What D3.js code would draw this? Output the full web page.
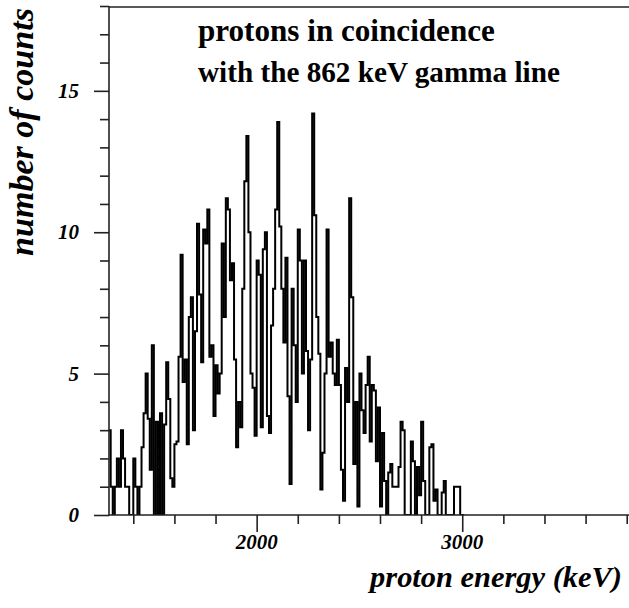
<!DOCTYPE html>
<html><head><meta charset="utf-8">
<script src="https://cdn.jsdelivr.net/npm/d3@7"></script>
<style>body{margin:0;background:#fff}svg{display:block}</style>
</head><body>
<svg id="c" width="629" height="608"></svg>
<script>
// ---- data ----
const binStart = 1280;   // keV, lower edge of first bin
const binWidth = 10;     // keV
const counts = [
 3,1,0,1,2,1,3,2,1,1, 0,0,2,1,0,1,2.4,3.6,5,3.4,
 1.6,6,0,3.3,0,3.6,0,3.2,5.4,4.1, 1.3,1,2.5,2.6,5.6,9.2,4.7,5.5,2.5,7,
 7.7,3,6.5,10.3,7.8,5.4,10.1,9.6,10.8,5.6, 6,3.5,5.3,4.3,5,9.6,7,11.2,10.8,8.3,
 8.9,5.5,2.4,4,3.1,8,11.8,13.4,10,5, 4.5,2.8,9,8.5,3.1,9.4,10,3.5,2.9,6.7,
 8,10.8,13.9,10.2,8,6.1,9.1,4.2,1.1,8, 6,4,10.1,9,5,9,5.8,3,5.5,14.2,
 10.6,7,5.7,0.9,2.2,5,10.1,5.6,6.1,5, 4.6,6.2,4.6,1.6,0.5,5.2,4,11.2,7.7,1.8,
 4,0.3,5,3.7,2.9,4.6,5.6,2.6,4.6,4.4, 1.9,3.8,0.3,2.9,1.2,0,1.5,1.8,1,1,
 1,1.7,3.3,3,0,0,0,2.6,1.9,0, 1.7,0.7,3.3,1.2,0,0,2.4,2.5,0.5,0.9,
 0,0,0.8,1.2,0,0,0,0,1,1, 1,0,0
];
const xTicks = [1400,1600,1800,2000,2200,2400,2600,2800,3000,3200,3400,3600,3800];
const xMajor = [2000,3000];
const yTicks = d3.range(0,19);
const yMajor = [0,5,10,15];
const titleLines = ["protons in coincidence","with the 862 keV gamma line"];
const xTitle = "proton energy (keV)";
const yTitle = "number of counts";

// ---- layout ----
const svg = d3.select("#c");
const pL = 109, pB = 515, pT = 6, pR = 629;
const x = d3.scaleLinear().domain([1400,3800]).range([133.3,626.7]);
const y = d3.scaleLinear().domain([0,18]).range([pB, pT]);
const serif = "'Liberation Serif','Times New Roman',serif";

svg.append("clipPath").attr("id","pc").append("rect")
  .attr("x",pL).attr("y",0).attr("width",pR-pL).attr("height",pB);

// histogram step line
const pts = counts.map((c,i)=>[binStart+i*binWidth, c]);
pts.push([binStart+counts.length*binWidth, counts[counts.length-1]]);
const line = d3.line().x(d=>x(d[0])).y(d=>y(d[1])).curve(d3.curveStepAfter);
svg.append("path").attr("clip-path","url(#pc)")
  .attr("d", line(pts)).attr("fill","none").attr("stroke","#000")
  .attr("stroke-width",2).attr("stroke-linejoin","miter");

// frame
const ax = "#222";
svg.append("line").attr("x1",pL).attr("x2",pR+2).attr("y1",pT+1).attr("y2",pT+1).attr("stroke",ax).attr("stroke-width",1.6);

// x axis
const gx = svg.append("g").attr("transform",`translate(0,${pB})`)
  .call(d3.axisBottom(x).tickValues(xTicks).tickSize(9).tickSizeOuter(0).tickFormat(()=>""));
gx.select(".domain").remove();
gx.selectAll(".tick line").attr("stroke",ax).attr("stroke-width",1.6)
  .attr("y2", d=> xMajor.includes(d)?17:9);
gx.selectAll(".tick text").remove();
svg.append("line").attr("x1",pL).attr("x2",pR+2).attr("y1",pB).attr("y2",pB).attr("stroke",ax).attr("stroke-width",1.6);
svg.selectAll(".xl").data(xMajor).enter().append("text")
  .attr("x",d=>x(d)).attr("y",549).attr("text-anchor","middle")
  .attr("font-family",serif).attr("font-weight","bold").attr("font-style","italic")
  .attr("font-size",21).text(d=>String(d));

// y axis
const gy = svg.append("g").attr("transform",`translate(${pL},0)`)
  .call(d3.axisLeft(y).tickValues(yTicks).tickSize(9).tickSizeOuter(0).tickFormat(()=>""));
gy.select(".domain").remove();
gy.selectAll(".tick line").attr("stroke",ax).attr("stroke-width",1.6)
  .attr("x2", d=> yMajor.includes(d)?-15:-9);
gy.selectAll(".tick text").remove();
svg.append("line").attr("x1",pL).attr("x2",pL).attr("y1",pT).attr("y2",pB+0.8).attr("stroke",ax).attr("stroke-width",1.6);
svg.selectAll(".yl").data(yMajor).enter().append("text")
  .attr("x",79).attr("y",d=>y(d)+7).attr("text-anchor","end")
  .attr("font-family",serif).attr("font-weight","bold").attr("font-style","italic")
  .attr("font-size",21).text(d=>String(d));

// helper: fit font size to target width
function fit(sel, w){
  const n = sel.node(); const fs = +sel.attr("font-size");
  const cw = n.getComputedTextLength();
  if (cw>0) sel.attr("font-size", (fs*w/cw).toFixed(2));
}

// titles
const t1 = svg.append("text").attr("x",198).attr("y",41)
  .attr("font-family",serif).attr("font-weight","bold").attr("font-size",26).text(titleLines[0]);
fit(t1, 297);
const t2 = svg.append("text").attr("x",198).attr("y",82)
  .attr("font-family",serif).attr("font-weight","bold").attr("font-size",26).text(titleLines[1]);
fit(t2, 362);

const xt = svg.append("text").attr("x",622).attr("y",587).attr("text-anchor","end")
  .attr("font-family",serif).attr("font-weight","bold").attr("font-style","italic")
  .attr("font-size",30).text(xTitle);
fit(xt, 252);

const yt = svg.append("text").attr("transform","translate(33,132) rotate(-90)")
  .attr("text-anchor","middle")
  .attr("font-family",serif).attr("font-weight","bold").attr("font-style","italic")
  .attr("font-size",30).text(yTitle);
fit(yt, 248);
</script>
</body></html>
